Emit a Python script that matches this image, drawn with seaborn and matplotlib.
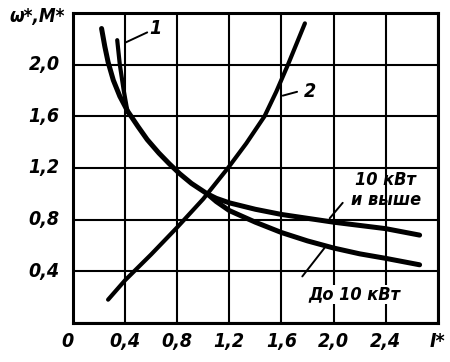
import numpy as np
import pandas as pd
import seaborn as sns
import matplotlib
matplotlib.use("Agg")
import matplotlib.pyplot as plt

# ---- data ----
main_x = [0.22, 0.245, 0.27, 0.31, 0.36, 0.42, 0.50, 0.57, 0.66, 0.74, 0.82, 0.91, 1.03]
main_y = [2.28, 2.14, 2.02, 1.88, 1.755, 1.64, 1.52, 1.42, 1.315, 1.232, 1.155, 1.08, 1.00]

upper_x = [1.03, 1.10, 1.20, 1.40, 1.60, 1.80, 2.00, 2.20, 2.40, 2.66]   # 10 кВт и выше
upper_y = [1.00, 0.965, 0.93, 0.88, 0.84, 0.81, 0.78, 0.755, 0.73, 0.68]

lower_x = [1.03, 1.10, 1.20, 1.40, 1.60, 1.80, 2.00, 2.20, 2.40, 2.66]   # До 10 кВт
lower_y = [1.00, 0.94, 0.87, 0.78, 0.70, 0.635, 0.58, 0.535, 0.50, 0.45]

curve1_x = [0.34, 0.36, 0.39, 0.42]
curve1_y = [2.19, 2.00, 1.80, 1.63]

curve2_x = [0.27, 0.40, 0.60, 0.80, 1.00, 1.19, 1.33, 1.47, 1.56, 1.65, 1.78]
curve2_y = [0.18, 0.33, 0.53, 0.74, 0.96, 1.20, 1.39, 1.60, 1.79, 2.00, 2.32]

x_ticks = [0.0, 0.4, 0.8, 1.2, 1.6, 2.0, 2.4, 2.8]
x_labels = ["0", "0,4", "0,8", "1,2", "1,6", "2,0", "2,4", "I*"]
y_ticks = [0.4, 0.8, 1.2, 1.6, 2.0]
y_labels = ["0,4", "0,8", "1,2", "1,6", "2,0"]

sns.set_style("white")
plt.rcParams['font.family'] = ['DejaVu Sans']
plt.rcParams['text.color'] = 'black'

fig = plt.figure(figsize=(4.5, 3.62), dpi=100)
ax = fig.add_axes([0.162, 0.108, 0.811, 0.856])

font = dict(family='DejaVu Sans', style='italic', weight='bold',
            stretch='condensed', color='black')

def draw(xs, ys, lw):
    df = pd.DataFrame({"x": xs, "y": ys})
    sns.lineplot(data=df, x="x", y="y", ax=ax, sort=False, color="black",
                 linewidth=lw, solid_capstyle='round', solid_joinstyle='round')

draw(main_x + upper_x[1:], main_y + upper_y[1:], 3.6)
draw(lower_x, lower_y, 3.6)
draw(curve1_x, curve1_y, 3.0)
draw(curve2_x, curve2_y, 3.0)

ax.set_xlim(0, 2.8)
ax.set_ylim(0, 2.4)
ax.set_xticks(np.arange(0, 2.81, 0.4))
ax.set_yticks(np.arange(0, 2.41, 0.4))
ax.grid(True, color="black", linewidth=1.5)
ax.tick_params(length=0, labelbottom=False, labelleft=False)
for s in ax.spines.values():
    s.set_linewidth(2.2)
    s.set_color("black")
ax.set_xlabel("")
ax.set_ylabel("")

for xv, lab in zip(x_ticks, x_labels):
    ax.text(xv - 0.04 if lab == "0" else xv, -0.07, lab, ha='center', va='top',
            fontsize=14, **font)
for yv, lab in zip(y_ticks, y_labels):
    ax.text(-0.1, yv, lab, ha='right', va='center', fontsize=14, **font)
fig.text(0.082, 0.955, "ω*,M*", ha='center', va='center', fontsize=13.5, **font)

# leaders and labels
ax.plot([0.40, 0.57], [2.17, 2.25], color='black', lw=1.4)
ax.text(0.63, 2.28, "1", ha='center', va='center', fontsize=14, **font)
ax.plot([1.61, 1.72], [1.76, 1.79], color='black', lw=1.4)
ax.text(1.82, 1.79, "2", ha='center', va='center', fontsize=14, **font)
ax.plot([1.97, 2.07], [0.81, 0.93], color='black', lw=1.4)
ax.text(2.40, 1.11, "10 кВт", ha='center', va='center', fontsize=13, **font)
ax.text(2.40, 0.95, "и выше", ha='center', va='center', fontsize=13, **font)
ax.plot([1.76, 1.93], [0.36, 0.58], color='black', lw=1.4)
ax.text(2.16, 0.22, "До 10 кВт", ha='center', va='center', fontsize=13,
        bbox=dict(facecolor='white', edgecolor='none', pad=0.5), **font)

fig.savefig("out.png", dpi=100, facecolor='white')
